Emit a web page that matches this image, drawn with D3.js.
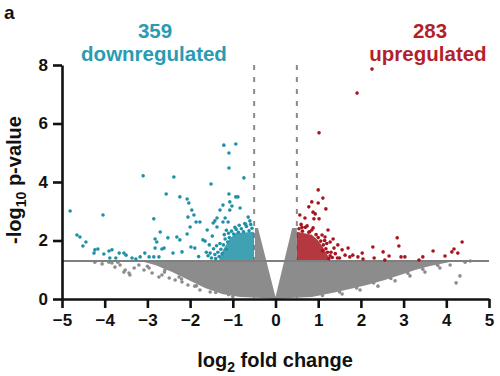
<!DOCTYPE html>
<html>
<head>
  <meta charset="utf-8">
<style>
  body { margin: 0; background: #fff; }
  svg { display: block; font-family: "Liberation Sans", Arial, sans-serif; font-weight: bold; }
</style>
<script src="https://d3js.org/d3.v7.min.js"></script>
<script>

  // axis ticks
  var xTicks = [-5, -4, -3, -2, -1, 0, 1, 2, 3, 4, 5];
  var yTicks = [0, 2, 4, 6, 8];

  // cut-offs
  var pCut = 1.3;
  var fcCut = 0.5;
  var nDown = 359;
  var nUp = 283;

  // significant, log2FC < -0.5  [log2FC, -log10 p]
  var downPoints = [
    [-1.21,5.26],[-0.93,5.30],[-1.09,4.99],[-1.09,4.48],[-3.10,4.21],[-2.38,4.17],[-1.51,3.93],[-0.74,4.14],
    [-2.56,3.59],[-2.24,3.49],[-1.09,3.59],[-0.93,3.49],[-0.88,3.49],[-4.81,3.01],[-4.04,2.87],[-2.85,2.74],
    [-2.07,3.42],[-2.03,3.28],[-1.96,3.04],[-1.91,2.87],[-2.05,2.80],[-1.86,2.63],
    [-4.65,2.19],[-4.58,2.12],[-4.44,1.95],[-4.51,1.81],[-4.23,1.68],[-4.16,1.71],[-4.25,1.57],[-4.02,1.54],
    [-3.90,1.64],[-3.83,1.68],[-3.66,1.57],[-3.55,1.57],[-3.50,1.50],[-3.88,1.40],[-3.36,1.40],[-3.17,1.44],
    [-3.06,1.57],[-2.96,1.44],[-2.85,1.44],[-2.82,1.74],[-2.82,2.05],[-2.78,1.95],[-2.70,2.29],[-2.73,1.44],
    [-2.66,1.71],[-2.61,1.74],[-2.52,2.09],[-2.40,1.57],[-2.31,2.12],[-2.24,2.02],[-2.19,1.61],[-2.07,2.22],
    [-2.00,2.46],[-1.98,1.78],[-1.89,1.74],[-1.70,2.02],[-1.65,1.98],[-1.60,2.36],[-1.53,1.57],[-1.46,2.60],
    [-1.42,2.67],[-1.37,2.46],[-1.37,2.77],[-1.30,3.04],[-1.23,3.21],[-1.23,2.63],[-1.18,2.77],[-1.11,2.63],
    [-1.07,3.32],[-1.07,3.04],[-1.02,3.18],[-0.83,3.11],[-0.64,2.80],[-0.60,2.67],[-1.77,2.63],[-3.74,1.40],
    [-3.27,1.37],[-1.80,1.45],[-1.62,1.60],[-1.55,1.85],[-1.48,2.15],[-0.95,2.45],[-0.70,2.55],[-1.15,2.35],
    [-0.55,2.42],[-0.62,2.33],[-0.68,2.48],[-0.75,2.30],[-0.80,2.40],[-0.87,2.28],[-0.92,2.38],[-0.98,2.22],
    [-1.03,2.32],[-0.58,2.55],[-0.72,2.58],[-0.85,2.52],[-1.08,2.10],[-1.12,1.95],[-1.18,2.05],[-1.22,1.85],
    [-1.28,1.70],[-1.25,1.55],[-1.32,1.45],[-1.35,1.60],[-1.40,1.38],[-1.30,1.90],[-1.42,1.52],[-1.15,1.70],
    [-1.45,1.72],[-1.38,1.82],[-1.50,1.40],[-1.58,1.48],[-1.20,2.20],[-1.10,2.25]
  ];

  // significant, log2FC > 0.5
  var upPoints = [
    [2.26,7.86],[1.91,7.04],[1.02,5.68],[1.00,3.73],[0.85,3.32],[1.00,3.28],[1.11,3.45],[1.18,3.08],
    [0.78,3.15],[0.88,2.97],[0.93,2.91],[0.57,2.87],[0.69,2.77],[0.90,2.74],[1.02,2.74],[0.74,2.50],
    [0.88,2.43],[1.23,2.36],[1.09,2.19],[1.16,2.12],[1.35,2.05],[1.46,1.85],[1.37,1.74],[1.56,1.68],
    [1.70,1.74],[1.81,1.50],[1.93,1.44],[2.03,1.57],[1.74,1.44],[2.05,1.37],[2.28,1.78],[2.31,1.40],
    [2.52,1.61],[2.56,1.33],[2.66,1.47],[2.85,2.09],[2.89,1.81],[2.94,1.44],[3.03,1.44],[3.36,1.33],
    [3.45,1.44],[3.69,1.64],[3.97,1.47],[4.13,1.61],[4.18,1.71],[4.27,1.57],[4.37,1.95],[1.28,1.95],
    [1.63,1.50],[0.62,2.45],[1.30,1.60],[1.50,1.40],[0.80,2.30],
    [0.55,2.40],[0.63,2.32],[0.70,2.45],[0.78,2.28],[0.85,2.36],[0.95,2.20],[1.00,2.10],[1.06,1.98],
    [1.12,1.85],[1.18,1.72],[1.22,1.60],[1.28,1.48],[1.25,1.38],[1.33,1.42],[1.40,1.55],[1.15,2.00],
    [1.20,1.90],[0.60,2.55],[1.45,1.40],[1.10,1.65]
  ];

  // sparse non-significant points outside the dense body
  var grayPoints = [
    [-4.23,1.26],[-3.90,1.26],[-3.83,1.23],[-3.76,1.09],[-3.64,1.16],[-3.55,0.92],[-3.52,0.99],[-3.43,0.89],
    [-3.41,0.82],[-3.31,1.06],[-3.20,1.16],[-3.08,0.99],[-2.96,1.06],[-2.89,0.89],[-2.73,0.75],[-2.66,0.82],
    [-2.59,0.99],[-2.49,0.72],[-2.35,0.65],[-2.26,0.75],[-2.19,0.58],[-2.05,0.48],[-1.89,0.44],[-1.77,0.31],
    [-1.53,0.24],[-4.06,1.20],[-3.69,1.26],
    [-1.00,0.08],[-1.40,0.22],[-1.85,0.45],[-2.20,0.68],[-2.60,0.92],[-3.00,1.12],[-1.10,0.15],
    [4.32,0.79],[4.23,0.55],[4.44,1.26],[4.09,1.16],[3.85,1.06],[3.50,0.92],[3.15,0.79],[2.80,0.62],
    [2.40,0.44],[1.98,0.31],[1.56,0.17],[4.56,1.30],[3.78,1.23],
    [1.10,0.12],[1.50,0.24],[1.90,0.38],[2.30,0.55],[2.70,0.70],[3.10,0.88],[3.45,1.02],[3.80,1.15]
  ];

  // outline of the dense clouds, where points overlap into a solid mass
  var grayBody = [
    [-0.48,2.43],[-0.41,2.43],[0,0.07],[0.39,2.43],[0.50,2.43],[0.50,1.30],[4.20,1.30],[3.97,1.23],
    [3.62,1.13],[3.27,0.99],[2.92,0.82],[2.56,0.65],[2.14,0.48],[1.74,0.34],[1.35,0.21],[0.85,0.07],
    [0.34,0.03],[0,0.01],[-0.32,0.03],[-0.83,0.07],[-1.25,0.17],[-1.65,0.38],[-2.00,0.62],[-2.42,0.92],
    [-2.82,1.16],[-3.17,1.30],[-0.48,1.30]
  ];
  var downBody = [[-0.50,2.30],[-0.95,2.25],[-1.10,2.00],[-1.22,1.70],[-1.30,1.45],[-1.32,1.33],[-0.50,1.33]];
  var upBody = [[0.50,2.30],[0.85,2.20],[1.00,2.00],[1.12,1.75],[1.22,1.50],[1.28,1.33],[0.50,1.33]];

  function draw() {
    var svg = d3.select("svg");
    var teal = "#1f91a6", red = "#a8141e", grey = "#8c8c8c";

    var x = d3.scaleLinear().domain([-5, 5]).range([62, 489]);
    var y = d3.scaleLinear().domain([0, 8]).range([299, 65]);

    var outline = d3.line()
        .x(function(d) { return x(d[0]); })
        .y(function(d) { return y(d[1]); })
        .curve(d3.curveLinearClosed);

    // dashed fold-change cut-offs
    svg.selectAll(".fc")
      .data([-fcCut, fcCut])
      .enter().append("line")
        .attr("x1", function(d) { return x(d); })
        .attr("x2", function(d) { return x(d); })
        .attr("y1", y(8))
        .attr("y2", y(0))
        .attr("stroke", "#8a8a8a")
        .attr("stroke-width", 2)
        .attr("stroke-dasharray", "5,7");

    svg.append("path").datum(grayBody).attr("d", outline).attr("fill", grey);

    svg.selectAll(".g").data(grayPoints).enter().append("circle")
        .attr("cx", function(d) { return x(d[0]); })
        .attr("cy", function(d) { return y(d[1]); })
        .attr("r", 1.8)
        .attr("fill", grey);

    // p-value cut-off
    svg.append("line")
        .attr("x1", x(-5)).attr("x2", x(5))
        .attr("y1", y(pCut)).attr("y2", y(pCut))
        .attr("stroke", "#7f7f7f")
        .attr("stroke-width", 2);

    svg.append("path").datum(downBody).attr("d", outline).attr("fill", teal).attr("opacity", 0.85);
    svg.append("path").datum(upBody).attr("d", outline).attr("fill", red).attr("opacity", 0.85);

    svg.selectAll(".d").data(downPoints).enter().append("circle")
        .attr("cx", function(d) { return x(d[0]); })
        .attr("cy", function(d) { return y(d[1]); })
        .attr("r", 1.8)
        .attr("fill", teal);

    svg.selectAll(".u").data(upPoints).enter().append("circle")
        .attr("cx", function(d) { return x(d[0]); })
        .attr("cy", function(d) { return y(d[1]); })
        .attr("r", 1.8)
        .attr("fill", red);

    // axes
    var ax = svg.append("g")
        .attr("transform", "translate(0," + y(0) + ")")
        .call(d3.axisBottom(x).tickValues(xTicks).tickSize(9).tickSizeOuter(0).tickPadding(6));
    var ay = svg.append("g")
        .attr("transform", "translate(" + x(-5) + ",0)")
        .call(d3.axisLeft(y).tickValues(yTicks).tickSize(9).tickSizeOuter(0).tickPadding(5));

    [ax, ay].forEach(function(a) {
      a.select(".domain").attr("stroke", "#111").attr("stroke-width", 2.6);
      a.selectAll(".tick line").attr("stroke", "#111").attr("stroke-width", 2.6);
      a.selectAll(".tick text")
          .attr("fill", "#111")
          .style("font-family", "'Liberation Sans', Arial, sans-serif")
          .style("font-weight", "bold")
          .style("font-size", "17px");
    });

    // axis titles
    var xt = svg.append("text")
        .attr("x", 275).attr("y", 367)
        .attr("text-anchor", "middle")
        .attr("font-size", 20)
        .attr("fill", "#111");
    xt.append("tspan").text("log");
    xt.append("tspan").attr("font-size", 14).attr("dy", 5).text("2");
    xt.append("tspan").attr("dy", -5).text(" fold change");

    var yt = svg.append("text")
        .attr("transform", "translate(21,180) rotate(-90)")
        .attr("text-anchor", "middle")
        .attr("font-size", 20)
        .attr("fill", "#111");
    yt.append("tspan").text("-log");
    yt.append("tspan").attr("font-size", 14).attr("dy", 5).text("10");
    yt.append("tspan").attr("dy", -5).text(" p-value");

    // counts
    svg.append("text").attr("x", 155).attr("y", 38).attr("text-anchor", "middle")
        .attr("font-size", 20.5).attr("fill", "#2a9bb2").text(nDown);
    svg.append("text").attr("x", 154).attr("y", 61).attr("text-anchor", "middle")
        .attr("font-size", 20.5).attr("fill", "#2a9bb2").text("downregulated");
    svg.append("text").attr("x", 430).attr("y", 38).attr("text-anchor", "middle")
        .attr("font-size", 20.5).attr("fill", "#b41f2b").text(nUp);
    svg.append("text").attr("x", 428).attr("y", 61).attr("text-anchor", "middle")
        .attr("font-size", 20.5).attr("fill", "#b41f2b").text("upregulated");

    svg.append("text").attr("x", 4).attr("y", 19).attr("font-size", 19).attr("fill", "#111").text("a");
  }

  window.onload = draw;

</script>
</head>
<body>
  <svg width="500" height="376"></svg>
</body>
</html>
